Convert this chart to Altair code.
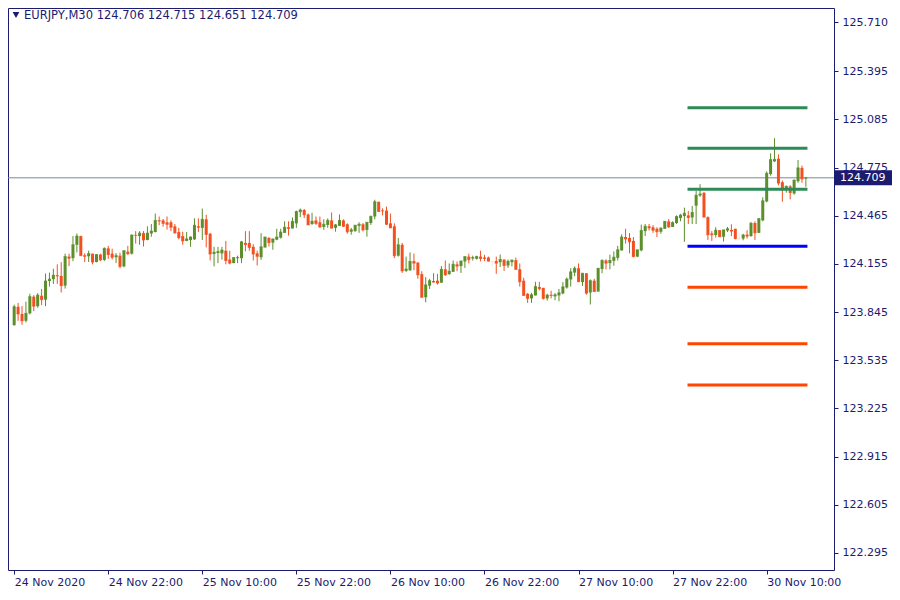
import json
import altair as alt
import pandas as pd

# ---------------- data (EURJPY, M30) ----------------
opens = [
    123.761, 123.879, 123.833, 123.789, 123.837, 123.944, 123.883, 123.950, 123.925, 124.045,
    124.057, 124.082, 124.078, 124.015, 124.202, 124.192, 124.278, 124.334, 124.210, 124.204,
    124.221, 124.167, 124.215, 124.181, 124.255, 124.221, 124.198, 124.208, 124.139, 124.234,
    124.221, 124.341, 124.334, 124.353, 124.309, 124.351, 124.360, 124.435, 124.435, 124.423,
    124.423, 124.397, 124.360, 124.334, 124.303, 124.309, 124.313, 124.397, 124.387, 124.442,
    124.349, 124.219, 124.225, 124.223, 124.240, 124.183, 124.160, 124.192, 124.192, 124.290,
    124.290, 124.265, 124.223, 124.198, 124.261, 124.322, 124.292, 124.311, 124.324, 124.355,
    124.391, 124.383, 124.416, 124.488, 124.502, 124.473, 124.412, 124.435, 124.423, 124.393,
    124.406, 124.435, 124.387, 124.400, 124.435, 124.410, 124.362, 124.366, 124.400, 124.410,
    124.374, 124.418, 124.460, 124.555, 124.498, 124.498, 124.416, 124.397, 124.208, 124.278,
    124.110, 124.114, 124.173, 124.164, 124.089, 123.940, 124.015, 124.045, 124.047, 124.034,
    124.120, 124.089, 124.104, 124.152, 124.141, 124.171, 124.202, 124.190, 124.188, 124.202,
    124.196, 124.196, 124.173, 124.173, 124.166, 124.183, 124.145, 124.166, 124.179, 124.120,
    124.047, 123.963, 123.933, 123.952, 124.007, 124.001, 123.933, 123.956, 123.946, 123.952,
    123.965, 124.003, 124.055, 124.099, 124.127, 124.038, 124.095, 123.971, 124.047, 123.977,
    124.122, 124.177, 124.160, 124.175, 124.194, 124.242, 124.328, 124.322, 124.303, 124.202,
    124.242, 124.366, 124.397, 124.391, 124.381, 124.362, 124.381, 124.429, 124.393, 124.418,
    124.450, 124.463, 124.467, 124.454, 124.530, 124.595, 124.612, 124.456, 124.351, 124.341,
    124.372, 124.330, 124.370, 124.374, 124.381, 124.318, 124.318, 124.343, 124.334, 124.418,
    124.355, 124.435, 124.557, 124.733, 124.815, 124.832, 124.681, 124.633, 124.654, 124.608,
    124.687, 124.773, 124.706,
]
highs = [
    123.893, 123.904, 123.883, 123.912, 123.963, 123.954, 123.967, 123.994, 124.093, 124.099,
    124.124, 124.152, 124.166, 124.221, 124.221, 124.334, 124.351, 124.337, 124.223, 124.240,
    124.221, 124.217, 124.221, 124.261, 124.271, 124.253, 124.225, 124.227, 124.240, 124.271,
    124.343, 124.366, 124.366, 124.366, 124.397, 124.412, 124.479, 124.460, 124.444, 124.460,
    124.435, 124.412, 124.387, 124.362, 124.360, 124.332, 124.448, 124.448, 124.511, 124.471,
    124.355, 124.265, 124.265, 124.265, 124.303, 124.240, 124.196, 124.208, 124.303, 124.366,
    124.366, 124.282, 124.240, 124.353, 124.328, 124.328, 124.316, 124.381, 124.381, 124.429,
    124.429, 124.454, 124.498, 124.511, 124.509, 124.479, 124.484, 124.460, 124.460, 124.442,
    124.448, 124.486, 124.412, 124.473, 124.442, 124.416, 124.387, 124.404, 124.423, 124.418,
    124.423, 124.467, 124.568, 124.555, 124.513, 124.524, 124.479, 124.416, 124.322, 124.290,
    124.202, 124.229, 124.221, 124.164, 124.108, 124.070, 124.059, 124.095, 124.091, 124.141,
    124.177, 124.158, 124.177, 124.171, 124.177, 124.202, 124.221, 124.208, 124.208, 124.240,
    124.213, 124.202, 124.177, 124.202, 124.215, 124.183, 124.183, 124.183, 124.196, 124.158,
    124.066, 123.967, 123.969, 124.040, 124.040, 124.001, 123.963, 123.982, 123.967, 123.994,
    124.038, 124.068, 124.127, 124.139, 124.158, 124.095, 124.095, 124.055, 124.059, 124.127,
    124.185, 124.185, 124.215, 124.236, 124.271, 124.345, 124.381, 124.353, 124.328, 124.246,
    124.408, 124.412, 124.412, 124.404, 124.391, 124.391, 124.431, 124.444, 124.429, 124.467,
    124.477, 124.517, 124.496, 124.528, 124.625, 124.668, 124.618, 124.461, 124.366, 124.391,
    124.372, 124.374, 124.393, 124.410, 124.381, 124.350, 124.349, 124.372, 124.425, 124.429,
    124.450, 124.584, 124.750, 124.866, 124.964, 124.860, 124.692, 124.660, 124.662, 124.698,
    124.824, 124.788, 124.715,
]
lows = [
    123.757, 123.789, 123.763, 123.778, 123.830, 123.851, 123.873, 123.889, 123.883, 124.009,
    124.026, 124.026, 123.971, 123.996, 124.141, 124.173, 124.229, 124.208, 124.167, 124.167,
    124.152, 124.165, 124.173, 124.173, 124.188, 124.183, 124.160, 124.127, 124.133, 124.213,
    124.215, 124.286, 124.278, 124.267, 124.307, 124.330, 124.358, 124.404, 124.395, 124.376,
    124.366, 124.349, 124.313, 124.278, 124.301, 124.265, 124.309, 124.360, 124.309, 124.261,
    124.177, 124.139, 124.160, 124.183, 124.152, 124.152, 124.160, 124.160, 124.160, 124.236,
    124.240, 124.177, 124.145, 124.181, 124.261, 124.267, 124.246, 124.307, 124.318, 124.355,
    124.337, 124.383, 124.387, 124.456, 124.450, 124.406, 124.406, 124.406, 124.387, 124.374,
    124.387, 124.385, 124.362, 124.400, 124.393, 124.349, 124.343, 124.362, 124.355, 124.364,
    124.330, 124.406, 124.442, 124.492, 124.467, 124.406, 124.387, 124.192, 124.202, 124.097,
    124.103, 124.110, 124.114, 124.059, 123.940, 123.908, 123.994, 124.036, 124.022, 124.034,
    124.078, 124.085, 124.104, 124.108, 124.097, 124.129, 124.158, 124.177, 124.183, 124.171,
    124.173, 124.171, 124.139, 124.091, 124.135, 124.110, 124.129, 124.139, 124.120, 124.009,
    123.952, 123.904, 123.904, 123.952, 123.984, 123.925, 123.919, 123.933, 123.921, 123.915,
    123.959, 123.996, 124.009, 124.076, 124.040, 124.013, 123.957, 123.894, 123.977, 123.977,
    124.095, 124.120, 124.120, 124.143, 124.177, 124.240, 124.286, 124.223, 124.198, 124.198,
    124.236, 124.334, 124.370, 124.355, 124.328, 124.349, 124.381, 124.387, 124.393, 124.412,
    124.429, 124.297, 124.412, 124.412, 124.412, 124.587, 124.456, 124.309, 124.303, 124.324,
    124.330, 124.299, 124.360, 124.334, 124.313, 124.309, 124.307, 124.318, 124.330, 124.309,
    124.353, 124.429, 124.551, 124.723, 124.811, 124.660, 124.555, 124.613, 124.570, 124.601,
    124.677, 124.677, 124.651,
]
closes = [
    123.879, 123.833, 123.789, 123.837, 123.944, 123.883, 123.954, 123.925, 124.045, 124.057,
    124.082, 124.078, 124.015, 124.202, 124.192, 124.278, 124.334, 124.208, 124.204, 124.221,
    124.167, 124.215, 124.181, 124.255, 124.215, 124.198, 124.208, 124.139, 124.240, 124.221,
    124.341, 124.339, 124.353, 124.309, 124.353, 124.366, 124.435, 124.431, 124.416, 124.410,
    124.391, 124.355, 124.324, 124.303, 124.316, 124.328, 124.404, 124.391, 124.442, 124.345,
    124.219, 124.230, 124.234, 124.244, 124.177, 124.160, 124.196, 124.196, 124.297, 124.280,
    124.261, 124.219, 124.204, 124.265, 124.328, 124.292, 124.316, 124.328, 124.360, 124.391,
    124.383, 124.429, 124.492, 124.502, 124.471, 124.406, 124.429, 124.416, 124.393, 124.410,
    124.435, 124.385, 124.406, 124.435, 124.397, 124.362, 124.374, 124.404, 124.410, 124.374,
    124.423, 124.460, 124.555, 124.492, 124.496, 124.410, 124.387, 124.208, 124.278, 124.110,
    124.122, 124.171, 124.160, 124.085, 123.940, 124.020, 124.047, 124.038, 124.032, 124.120,
    124.085, 124.108, 124.152, 124.141, 124.173, 124.202, 124.183, 124.196, 124.202, 124.190,
    124.190, 124.173, 124.171, 124.160, 124.183, 124.145, 124.171, 124.179, 124.120, 124.040,
    123.952, 123.933, 123.956, 124.009, 123.996, 123.933, 123.954, 123.952, 123.956, 123.969,
    124.007, 124.057, 124.104, 124.127, 124.040, 124.095, 123.967, 124.047, 123.977, 124.127,
    124.177, 124.160, 124.177, 124.198, 124.246, 124.328, 124.316, 124.297, 124.202, 124.246,
    124.370, 124.397, 124.387, 124.372, 124.362, 124.385, 124.429, 124.393, 124.421, 124.460,
    124.469, 124.481, 124.454, 124.486, 124.597, 124.605, 124.456, 124.343, 124.343, 124.372,
    124.330, 124.374, 124.381, 124.366, 124.318, 124.316, 124.341, 124.334, 124.416, 124.355,
    124.446, 124.561, 124.738, 124.826, 124.828, 124.675, 124.633, 124.654, 124.614, 124.694,
    124.773, 124.702, 124.709,
]
faint_bars = [122, 185]

tick_bars = [0, 24, 48, 72, 96, 120, 144, 168, 192]
tick_labels = ["24 Nov 2020", "24 Nov 22:00", "25 Nov 10:00", "25 Nov 22:00",
               "26 Nov 10:00", "26 Nov 22:00", "27 Nov 10:00", "27 Nov 22:00",
               "30 Nov 10:00"]
price_ticks = [125.710, 125.395, 125.085, 124.775, 124.465, 124.155,
               123.845, 123.535, 123.225, 122.915, 122.605, 122.295]

level_values = [125.160, 124.899, 124.635, 124.269, 124.005, 123.641, 123.376]
level_colors = ["#2e8b57", "#2e8b57", "#2e8b57", "#0000ff", "#ff4500", "#ff4500", "#ff4500"]
level_start = 171.8
level_end = 202.4

symbol = "EURJPY,M30"
last_price = closes[-1]

# ---------------- build tables ----------------
n = len(closes)
rows = []
for i in range(n):
    if i in faint_bars:
        d = "faint"
    elif closes[i] >= opens[i]:
        d = "up"
    else:
        d = "down"
    rows.append(dict(i=i, open=opens[i], high=highs[i], low=lows[i], close=closes[i], dir=d))
df = pd.DataFrame(rows)

lv = pd.DataFrame(dict(v=level_values, c=level_colors,
                       s=[level_start] * len(level_values), e=[level_end] * len(level_values)))

NAVY = "#1b1b70"
FONT = "DejaVu Sans"
W, H = 826, 562

xscale = alt.Scale(domain=[-0.3, 207.9], nice=False, zero=False)
yscale = alt.Scale(domain=[122.185, 125.802], nice=False, zero=False)
cscale = alt.Scale(domain=["up", "down", "faint"], range=["#5a8f2b", "#f4501f", "#fbe2d6"])

label_expr = json.dumps(tick_labels) + "[round(datum.value / 24)]"

xaxis = alt.Axis(values=tick_bars, labelExpr=label_expr, labelAlign="left",
                 labelPadding=2, tickSize=4, grid=False, title=None, domain=False,
                 labelOverlap=False, labelBound=False, labelFlush=False,
                 labelColor=NAVY, tickColor=NAVY, labelFont=FONT, labelFontSize=11)
yaxis = alt.Axis(values=price_ticks, format=".3f", orient="right", tickSize=4,
                 labelPadding=4, grid=False, title=None, domain=False,
                 labelColor=NAVY, tickColor=NAVY, labelFont=FONT, labelFontSize=11,
                 labelOverlap=False, labelBound=False, labelFlush=False)

base = alt.Chart(df)

price_line = alt.Chart(pd.DataFrame({"p": [last_price]})).mark_rule(
    color="#7a8a9a", strokeWidth=1
).encode(y=alt.Y("p:Q", scale=yscale, axis=yaxis))

wicks = base.mark_rule(strokeWidth=1).encode(
    x=alt.X("i:Q", scale=xscale, axis=xaxis),
    y=alt.Y("low:Q", scale=yscale),
    y2="high:Q",
    color=alt.Color("dir:N", scale=cscale, legend=None),
)
bodies = base.mark_bar(size=3).encode(
    x=alt.X("i:Q", scale=xscale),
    y=alt.Y("open:Q", scale=yscale),
    y2="close:Q",
    color=alt.Color("dir:N", scale=cscale, legend=None),
)
mins = base.mark_tick(orient="horizontal", size=3, thickness=1).encode(
    x=alt.X("i:Q", scale=xscale),
    y=alt.Y("close:Q", scale=yscale),
    color=alt.Color("dir:N", scale=cscale, legend=None),
)

levels = alt.Chart(lv).mark_rule(strokeWidth=3).encode(
    x=alt.X("s:Q", scale=xscale),
    x2="e:Q",
    y=alt.Y("v:Q", scale=yscale),
    color=alt.Color("c:N", scale=None),
)

pdf = pd.DataFrame({"p": [last_price], "t": [f"{last_price:.3f}"]})
label_box = alt.Chart(pdf).mark_rect(color=NAVY, yOffset=-7.5, y2Offset=7.5, clip=False).encode(
    x=alt.value(W + 1), x2=alt.value(W + 58),
    y=alt.Y("p:Q", scale=yscale), y2="p:Q",
)
label_text = alt.Chart(pdf).mark_text(align="left", baseline="middle", color="white",
                                      font=FONT, fontSize=11, dx=5, clip=False).encode(
    x=alt.value(W + 1), y=alt.Y("p:Q", scale=yscale), text="t:N",
)

title_str = f"{symbol}  {opens[-1]:.3f} {highs[-1]:.3f} {lows[-1]:.3f} {closes[-1]:.3f}"
tdf = pd.DataFrame({"t": [title_str]})
title_text = alt.Chart(tdf).mark_text(align="left", baseline="middle", color=NAVY,
                                      font=FONT, fontSize=11.5).encode(
    x=alt.value(16), y=alt.value(8), text="t:N")
tri = alt.Chart(tdf).mark_point(shape="triangle-down", filled=True, size=45,
                                color=NAVY, opacity=1).encode(
    x=alt.value(8), y=alt.value(7))

chart = alt.layer(price_line, wicks, bodies, mins, levels, label_box, label_text,
                  title_text, tri).properties(
    width=W, height=H,
    autosize=alt.AutoSizeParams(type="none"),
    padding={"left": 0, "top": 0, "right": 58, "bottom": 20},
    background="white",
).configure_view(stroke=NAVY, strokeWidth=1)

chart.save("out.html", embed_options={"renderer": "svg", "actions": False})
